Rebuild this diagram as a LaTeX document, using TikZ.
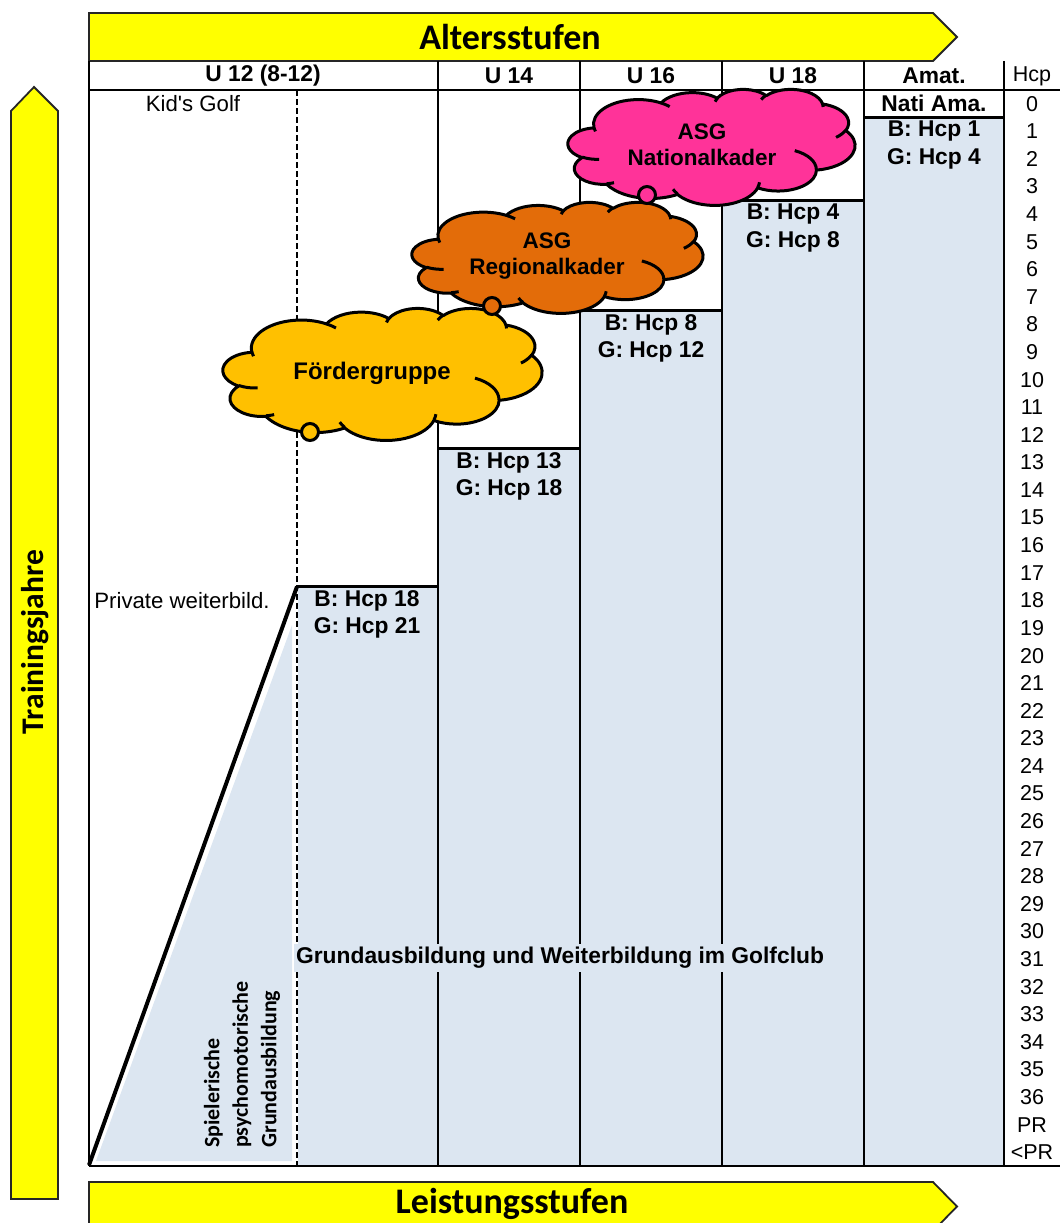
\documentclass[tikz,border=0pt]{standalone}
\usepackage{fontspec}
\setmainfont{Liberation Sans}
\newfontfamily\calib{Carlito}
\definecolor{yel}{HTML}{FFFF00}
\definecolor{stepblue}{HTML}{DCE6F1}
\definecolor{cforder}{HTML}{FFC000}
\definecolor{cregio}{HTML}{E36C09}
\definecolor{cnati}{HTML}{FF3399}
\tikzset{
  gridline/.style={line width=2.6pt},
  arrowbox/.style={fill=yel, draw=black!85, line width=1.8pt, line join=miter},
  bigtxt/.style={font=\calib\bfseries\fontsize{36}{40}\selectfont, inner sep=0pt},
  lbl/.style={font=\bfseries\fontsize{22.8}{26}\selectfont, inner sep=0pt},
  num/.style={font=\fontsize{21.5}{24}\selectfont, inner sep=0pt},
  lefttxt/.style={font=\fontsize{22.2}{25}\selectfont, inner sep=0pt},
  cloudline/.style={draw=black, line width=3pt, line join=round},
  cloudtxt/.style={font=\bfseries\fontsize{22.5}{26}\selectfont, align=center, inner sep=0pt},
  tail/.style={circle, draw=black, line width=3pt, minimum size=17pt, inner sep=0pt},
  xarc/.style n args={4}{x radius=#3, y radius=#4,
    start angle={(#1)+mod(atan2((#3)*sin(#1),(#4)*cos(#1))-(#1)+540,360)-180},
    end angle={(#1+#2)+mod(atan2((#3)*sin(#1+#2),(#4)*cos(#1+#2))-(#1+#2)+540,360)-180}}
}
% Excel-like cloud: #1,#2 top-left corner, #3 width, #4 height, #5 fill colour
\newcommand\xlcloud[5]{%
  \pgfmathsetmacro\cloudw{#3/432}%
  \pgfmathsetmacro\cloudh{#4/432}%
  \begin{scope}[shift={(#1,#2)}, x=\cloudw pt, y=-\cloudh pt]
  \path[cloudline, fill=#5] (39.00,143.70)
    arc[xarc={-190.487}{123.781}{67.53}{91.90}]
    arc[xarc={-144.102}{89.945}{53.33}{72.67}]
    arc[xarc={-145.808}{99.723}{43.65}{59.45}]
    arc[xarc={-130.986}{117.242}{48.57}{65.95}]
    arc[xarc={-78.709}{109.027}{53.33}{72.73}]
    arc[xarc={-46.267}{130.269}{67.75}{92.20}]
    arc[xarc={0.625}{114.033}{57.85}{78.67}]
    arc[xarc={22.452}{115.173}{67.52}{92.15}]
    arc[xarc={66.243}{75.711}{77.20}{105.43}]
    arc[xarc={-274.942}{146.736}{43.60}{59.18}]
    arc[xarc={-246.829}{152.519}{43.45}{59.45}]
    -- cycle;
  \path[cloudline, line cap=butt]
    (46.93,261.77) arc[xarc={86.742}{26.430}{43.45}{59.45}]
    (69.28,348.99) arc[xarc={73.610}{11.447}{43.60}{59.18}]
    (164.78,390.90) arc[xarc={137.624}{14.081}{67.52}{92.15}]
    (288.27,347.51) arc[xarc={6.453}{15.998}{67.52}{92.15}]
    (341.29,229.54) arc[xarc={-70.292}{70.917}{57.85}{78.67}]
    (417.98,153.54) arc[xarc={30.318}{27.752}{53.33}{72.73}]
    (383.24,54.26) arc[xarc={-13.744}{14.859}{48.57}{65.95}]
    (290.78,39.52) arc[xarc={-149.181}{18.195}{48.57}{65.95}]
    (221.41,47.20) arc[xarc={-163.494}{17.686}{43.65}{59.45}]
    (140.00,51.92) arc[xarc={-66.707}{12.319}{67.53}{91.90}]
    (41.27,157.89) arc[xarc={157.654}{11.858}{67.53}{91.90}];
  \end{scope}}
\begin{document}
\begin{tikzpicture}[x=1pt,y=-1pt]
\useasboundingbox (0,0) rectangle (1060,1223);
\clip (0,0) rectangle (1060,1223);
% arrows
\draw[arrowbox] (89,13) -- (933,13) -- (957,37) -- (933,61) -- (89,61) -- cycle;
\node[bigtxt] (alter) at (510,37) {Altersstufen};
\draw[arrowbox] (89,1182) -- (933,1182) -- (957,1206.5) -- (933,1231) -- (89,1231) -- cycle;
\node[bigtxt] (leist) at (512,1204) {Leistungsstufen};
\draw[arrowbox] (11,111) -- (34,87) -- (58,111) -- (58,1199) -- (11,1199) -- cycle;
\node[bigtxt, font=\calib\bfseries\fontsize{31.5}{36}\selectfont, rotate=90] (train) at (35,642) {Trainingsjahre};
% blue fills
\fill[stepblue] (297,586.6) rectangle (438,1166);
\fill[stepblue] (438,448.7) rectangle (580,1166);
\fill[stepblue] (580,310.7) rectangle (722,1166);
\fill[stepblue] (722,200.4) rectangle (864,1166);
\fill[stepblue] (864,117.6) rectangle (1004,1166);
\fill[stepblue] (96,1161) -- (292,1161) -- (292,625) -- cycle;
% dashed divider
\draw[white, line width=2.4pt] (297,90) -- (297,1166);
\draw[line width=2.4pt, dash pattern=on 6pt off 3pt] (297,90) -- (297,1166);
% grid
\draw[gridline] (89,61) -- (89,1166);
\draw[gridline] (89,90) -- (1060,90);
\draw[gridline] (89,1166) -- (1060,1166);
\foreach \xx in {438,580,722,864,1004} {\draw[gridline] (\xx,61) -- (\xx,1166);}
\draw[gridline] (297,586.6) -- (438,586.6);
\draw[gridline] (438,448.7) -- (580,448.7);
\draw[gridline] (580,310.7) -- (722,310.7);
\draw[gridline] (722,200.4) -- (864,200.4);
\draw[gridline] (864,117.6) -- (1004,117.6);
\draw[line width=4pt] (89,1165) -- (297,586.6);
% headers
\node[lbl] (h12) at (263,76) {U 12 (8-12)};
\node[lbl] (h14) at (509,76) {U 14};
\node[lbl] (h16) at (651,76) {U 16};
\node[lbl] (h18) at (793,76) {U 18};
\node[lbl] (ham) at (934,76) {Amat.};
\node[num] (hhcp) at (1032,76) {Hcp};
% hcp column
\foreach \i in {0,...,36} {\node[num] (hcp\i) at (1032,{103.8+27.59*\i}) {\i};}
\node[num] (hcppr) at (1032,{103.8+27.59*37}) {PR};
\node[num] (hcplpr) at (1032,{103.8+27.59*38}) {<PR};
% texts left
\node[lefttxt] (kids) at (193,103.8) {Kid\textquotesingle s Golf};
\node[lefttxt] (priv) at (182,600.4) {Private weiterbild.};
% step labels
\node[lbl] (b12) at (367,600.4) {B: Hcp 18};
\node[lbl] (g12) at (367,628.0) {G: Hcp 21};
\node[lbl] (b14) at (509,462.5) {B: Hcp 13};
\node[lbl] (g14) at (509,490.1) {G: Hcp 18};
\node[lbl] (b16) at (651,324.5) {B: Hcp 8};
\node[lbl] (g16) at (651,352.1) {G: Hcp 12};
\node[lbl] (b18) at (793,214.2) {B: Hcp 4};
\node[lbl] (g18) at (793,241.8) {G: Hcp 8};
\node[lbl] (nama) at (934,103.8) {Nati Ama.};
\node[lbl] (bam) at (934,131.4) {B: Hcp 1};
\node[lbl] (gam) at (934,159.0) {G: Hcp 4};
\node[lbl, fill=stepblue, inner xsep=2pt, inner ysep=3pt] (grund) at (560,958) {Grundausbildung und Weiterbildung im Golfclub};
\node[font=\calib\bfseries\fontsize{22}{28.5}\selectfont, rotate=90, anchor=west, align=left, inner sep=0pt] (spiel) at (242,1148) {Spielerische\\psychomotorische\\Grundausbildung};
% clouds
\xlcloud{223}{308}{319}{132}{cforder}
\node[cloudtxt, font=\bfseries\fontsize{24}{28}\selectfont] (fordertxt) at (372,373) {Fördergruppe};
\node[tail, fill=cforder] (fordertail) at (310,432) {};
\xlcloud{412}{202}{291}{111}{cregio}
\node[cloudtxt] (regiotxt) at (547,256) {ASG\\Regionalkader};
\node[tail, fill=cregio] (regiotail) at (492,306) {};
\xlcloud{568}{89}{287}{116}{cnati}
\node[cloudtxt] (natitxt) at (702,145) {ASG\\Nationalkader};
\node[tail, fill=cnati] (natitail) at (647,195) {};
\end{tikzpicture}
\end{document}
